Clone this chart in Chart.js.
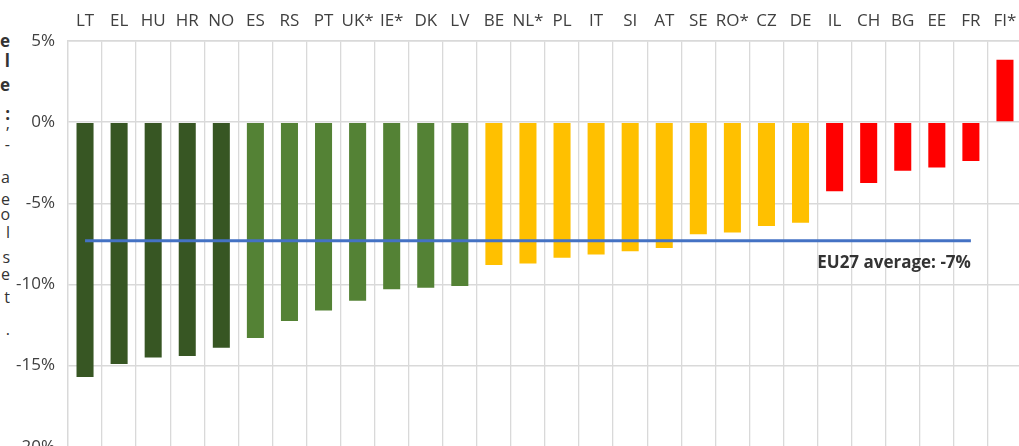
<!DOCTYPE html>
<html><head><meta charset="utf-8">
<script src="https://cdn.jsdelivr.net/npm/chart.js@4.4.0/dist/chart.umd.min.js"></script>
<style>
html,body{margin:0;padding:0;background:#fff;overflow:hidden;width:1019px;height:446px;}
#wrap{position:absolute;left:0;top:0;width:1030px;height:470px;}
#frag{position:absolute;left:-200px;top:0;width:210px;height:446px;font-family:"Open Sans";font-size:16px;color:#333;overflow:hidden;}
#frag span{position:absolute;right:0;line-height:20px;white-space:nowrap;}
</style></head><body>
<div id="frag"></div>
<div id="wrap"><canvas id="c" width="1030" height="470"></canvas></div>
<script>
const categories = ['LT','EL','HU','HR','NO','ES','RS','PT','UK*','IE*','DK','LV','BE','NL*','PL','IT','SI','AT','SE','RO*','CZ','DE','IL','CH','BG','EE','FR','FI*'];
const values = [-15.7,-14.9,-14.5,-14.4,-13.9,-13.3,-12.25,-11.6,-11.0,-10.3,-10.2,-10.1,-8.8,-8.7,-8.35,-8.15,-7.95,-7.75,-6.9,-6.8,-6.4,-6.2,-4.25,-3.75,-3.0,-2.8,-2.4,3.85];
const groups = [0,0,0,0,0,1,1,1,1,1,1,1,2,2,2,2,2,2,2,2,2,2,3,3,3,3,3,3];
const groupColors = ['#375623','#548235','#FFC000','#FF0000'];
const euAverage = -7.3;
const averageLabel = 'EU27 average: -7%';
const averageCount = 27; // LT .. FR
const yMin = -20, yMax = 5, yStep = 5;

// cut-off text fragments from the neighbouring text box (left edge)
const fragments = [
  {t:'e', b:48, bold:true},{t:'l', b:68, bold:true},{t:'e', b:92, bold:true},{t:':', b:121, bold:true},
  {t:',', b:129},{t:'-', b:150},{t:'a', b:183},{t:'e', b:205},{t:'o', b:220},{t:'l', b:238},
  {t:'s', b:263},{t:'e', b:280},{t:'t', b:303},{t:'.', b:335}
];
const fragEl = document.getElementById('frag');
fragments.forEach(f => {
  const s = document.createElement('span');
  s.textContent = f.t;
  if (f.bold) { s.style.fontWeight = '700'; s.style.fontSize = '17px'; s.style.top = (f.b - 16.6) + 'px'; }
  else { s.style.top = (f.b - 16.2) + 'px'; }
  fragEl.appendChild(s);
});

Chart.defaults.font.family = '"Open Sans", sans-serif';

const avgLabelPlugin = {
  id: 'avgLabel',
  afterDatasetsDraw(chart) {
    const {ctx, scales:{x, y}} = chart;
    ctx.save();
    ctx.font = 'bold 17px "Open Sans"';
    ctx.fillStyle = '#333333';
    ctx.textAlign = 'right';
    ctx.textBaseline = 'alphabetic';
    ctx.fillText(averageLabel, x.getPixelForValue(averageCount - 1), y.getPixelForValue(euAverage) + 27);
    ctx.restore();
  }
};

new Chart(document.getElementById('c'), {
  data: {
    labels: categories,
    datasets: [
      {
        type: 'line',
        data: categories.map((c, i) => i < averageCount ? euAverage : null),
        borderColor: '#4472C4',
        borderWidth: 3,
        pointRadius: 0,
        fill: false,
        order: 0,
        spanGaps: false
      },
      {
        type: 'bar',
        data: values,
        backgroundColor: groups.map(g => groupColors[g]),
        borderWidth: 0,
        barPercentage: 0.5,
        categoryPercentage: 1.0,
        order: 1
      }
    ]
  },
  options: {
    responsive: false,
    animation: false,
    events: [],
    layout: { padding: { top: 0, left: 0, right: 8, bottom: 4 } },
    plugins: { legend: { display: false }, tooltip: { enabled: false } },
    scales: {
      x: {
        type: 'category',
        position: 'top',
        offset: true,
        grid: { offset: true, color: '#D9D9D9', lineWidth: 1.3, drawTicks: false },
        border: { display: true, color: '#D9D9D9', width: 1.5 },
        ticks: { padding: 10, color: '#404040', font: { size: 17 }, autoSkip: false, maxRotation: 0 },
        afterFit(s) { s.height = 41; }
      },
      y: {
        min: yMin, max: yMax,
        grid: { color: '#D9D9D9', lineWidth: 1.6, drawTicks: false },
        border: { display: true, color: '#D9D9D9', width: 1.3 },
        ticks: { stepSize: yStep, padding: 13, color: '#404040', font: { size: 17 }, callback: v => v + '%' },
        afterFit(s) { s.width = 68; }
      }
    }
  },
  plugins: [avgLabelPlugin]
});
</script>
</body></html>
